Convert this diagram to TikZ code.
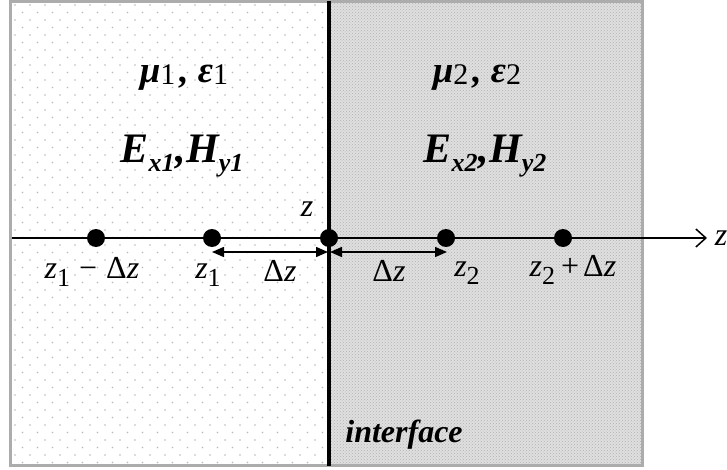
\documentclass[tikz,border=0pt]{standalone}
\usepackage{fontspec}
\setmainfont{Liberation Serif}
\usetikzlibrary{arrows.meta,patterns}
\newcommand\fs[1]{\fontsize{#1}{#1}\selectfont}
\newcommand\lsub[3]{\raisebox{-#2pt}{\fs{#1}#3}}
\newcommand\zi{{\itshape z}}
\begin{document}
\begin{tikzpicture}[x=1pt,y=-1pt,
  dotn/.style={circle,fill=black,inner sep=0pt,minimum size=18pt},
  zlab/.style={inner sep=0pt,anchor=base,font=\fs{32}},
  medlab/.style={inner sep=0pt,anchor=base,font=\fs{37}\bfseries\itshape},
  fldlab/.style={inner sep=0pt,anchor=base,font=\fs{42}\bfseries\itshape},
  dzarrow/.style={line width=1.5pt,{Triangle[length=12pt,width=10pt]}-{Triangle[length=12pt,width=10pt]}},
  axis/.style={line width=1.5pt,-{Straight Barb[length=10pt,width=18pt,line width=1.5pt]}}]
\useasboundingbox (0,0) rectangle (727,470);
\fill[white] (0,0) rectangle (727,470);
% left medium dotted
\foreach \j in {0,...,61}{
  \pgfmathsetmacro\off{mod(\j,2)*7.5}
  \foreach \i in {0,...,20}{
    \fill[gray!55] (15+\off+\i*15, 5+\j*7.5) circle (0.8pt);
  }
}
% right medium
\fill[gray!25] (329,2) rectangle (642,465);
\fill[pattern=crosshatch dots, pattern color=gray!60] (329,2) rectangle (642,465);
% frame
\draw[line width=3pt, gray!65] (10,2) rectangle (642,465);
% interface
\coordinate (itop) at (329,1);
\coordinate (ibot) at (329,466);
\draw[line width=4pt] (itop) -- (ibot);
% axis
\coordinate (astart) at (12,238);
\coordinate (aend) at (707,238);
\draw[axis] (astart) -- (aend);
\node[zlab] (zax) at (721,245) {\zi};
% points
\node[dotn] (p1) at (96,238) {};
\node[dotn] (p2) at (212,238) {};
\node[dotn] (p3) at (329,238) {};
\node[dotn] (p4) at (446,238) {};
\node[dotn] (p5) at (563,238) {};
% delta arrows
\coordinate (d1a) at (212,252);
\coordinate (d1b) at (328,252);
\coordinate (d2a) at (330,252);
\coordinate (d2b) at (447,252);
\draw[dzarrow] (d1a) -- (d1b);
\draw[dzarrow] (d2a) -- (d2b);
% labels
\node[zlab] (lz) at (307,217) {\zi};
\node[zlab] (l1) at (92,278) {\zi\lsub{26}{8}{1}\hspace{9pt}\textminus\hspace{9pt}Δ\zi};
\node[zlab] (l2) at (208,278) {\zi\lsub{26}{8}{1}};
\node[zlab] (l3) at (280,281) {Δ\zi};
\node[zlab] (l4) at (389,281) {Δ\zi};
\node[zlab] (l5) at (467,276) {\zi\lsub{26}{8}{2}};
\node[zlab] (l6) at (573,276) {\zi\lsub{26}{8}{2}\hspace{6pt}+\hspace{4pt}Δ\zi};
% media
\node[medlab] (m1) at (184,83) {μ\lsub{30}{2}{\mdseries\upshape 1}\hspace{4pt}, ε\lsub{30}{2}{\mdseries\upshape 1}};
\node[medlab] (m2) at (477,83) {μ\lsub{30}{2}{\mdseries\upshape 2}\hspace{4pt}, ε\lsub{30}{2}{\mdseries\upshape 2}};
\node[fldlab] (f1) at (182,163) {E\lsub{26}{9}{x1}\hspace{1pt},H\lsub{26}{9}{y1}};
\node[fldlab] (f2) at (485,163) {E\lsub{26}{9}{x2}\hspace{1pt},H\lsub{26}{9}{y2}};
\node[inner sep=0pt,anchor=base,font=\fs{32}\bfseries\itshape] (ifc) at (404,442) {interface};
\end{tikzpicture}
\end{document}
